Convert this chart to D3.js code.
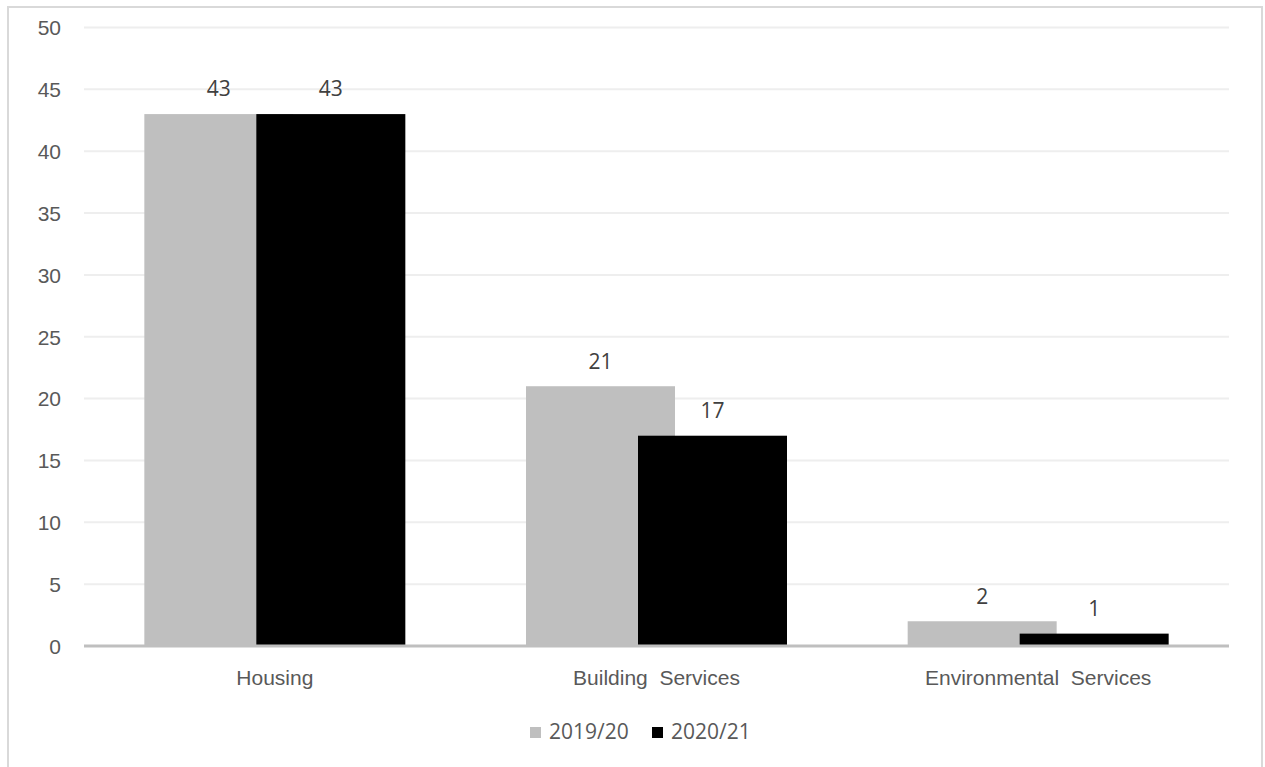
<!DOCTYPE html>
<html><head><meta charset="utf-8">
<script src="https://cdn.jsdelivr.net/npm/d3@7"></script>
<style>body{margin:0;background:#fff;}svg{display:block;font-family:"Open Sans","Noto Sans",sans-serif;}</style>
</head><body>
<script>
const categories = ["Housing", "Building  Services", "Environmental  Services"];
const seriesNames = ["2019/20", "2020/21"];
const values2019 = [43, 21, 2];
const values2020 = [43, 17, 1];
const yTicks = [0, 5, 10, 15, 20, 25, 30, 35, 40, 45, 50];
const colors = ["#bfbfbf", "#000000"];

(function () {
const W = 1265, H = 767, FS = "21px";
const svg = d3.select("body").append("svg").attr("width", W).attr("height", H);
svg.append("rect").attr("x", 8).attr("y", 7).attr("width", 1254).attr("height", 780)
  .attr("fill", "#fff").attr("stroke", "#d9d9d9").attr("stroke-width", 2);

const mLeft = 84, mRight = 1229, mTop = 27.5, mBottom = 646;
const y = d3.scaleLinear().domain([0, 50]).range([mBottom, mTop]);
const x = d3.scaleBand().domain(categories).range([mLeft, mRight]).padding(0);
const barW = 149, offset = 112;

svg.append("g").selectAll("line").data(yTicks.filter(d => d > 0)).join("line")
  .attr("x1", mLeft).attr("x2", mRight).attr("y1", d => y(d)).attr("y2", d => y(d))
  .attr("stroke", "#eeeeee").attr("stroke-width", 2);

const yAxis = d3.axisLeft(y).tickValues(yTicks).tickSize(0).tickPadding(0);
const ga = svg.append("g").attr("transform", `translate(61,0)`).call(yAxis);
ga.select(".domain").remove();
ga.selectAll("text").attr("fill", "#595959").style("font-size", FS).style("font-family", "inherit").attr("dy", "0.35em");

const series = [values2019, values2020];
series.forEach((vals, si) => {
  const g = svg.append("g");
  g.selectAll("rect").data(categories).join("rect")
    .attr("x", (c) => x(c) + x.bandwidth() / 2 - (barW + offset) / 2 + si * offset)
    .attr("y", (c, i) => y(vals[i]))
    .attr("width", barW)
    .attr("height", (c, i) => y(0) - y(vals[i]))
    .attr("fill", colors[si]);
});
series.forEach((vals, si) => {
  svg.append("g").selectAll("text").data(categories).join("text")
    .attr("x", (c) => x(c) + x.bandwidth() / 2 - (barW + offset) / 2 + si * offset + barW / 2)
    .attr("y", (c, i) => y(vals[i]) - 25).attr("dy", "0.35em")
    .attr("text-anchor", "middle").attr("fill", "#404040").style("font-size", FS)
    .text((c, i) => vals[i]);
});

svg.append("line").attr("x1", mLeft).attr("x2", mRight).attr("y1", y(0)).attr("y2", y(0))
  .attr("stroke", "#bfbfbf").attr("stroke-width", 3);

const xAxis = d3.axisBottom(x).tickSize(0).tickPadding(0);
const gx = svg.append("g").attr("transform", `translate(0,${mBottom + 32})`).call(xAxis);
gx.select(".domain").remove();
gx.selectAll("text").attr("fill", "#595959").style("font-size", FS).style("font-family", "inherit").attr("dy", "0.35em")
  .style("white-space", "pre").attr("xml:space", "preserve");

const legend = svg.append("g");
const lx = [530, 652];
seriesNames.forEach((n, i) => {
  legend.append("rect").attr("x", lx[i]).attr("y", 727).attr("width", 11).attr("height", 11).attr("fill", colors[i]);
  legend.append("text").attr("x", lx[i] + 19).attr("y", 732).attr("dy", "0.35em")
    .attr("fill", "#595959").style("font-size", FS).text(n);
});
})();
</script>
</body></html>
